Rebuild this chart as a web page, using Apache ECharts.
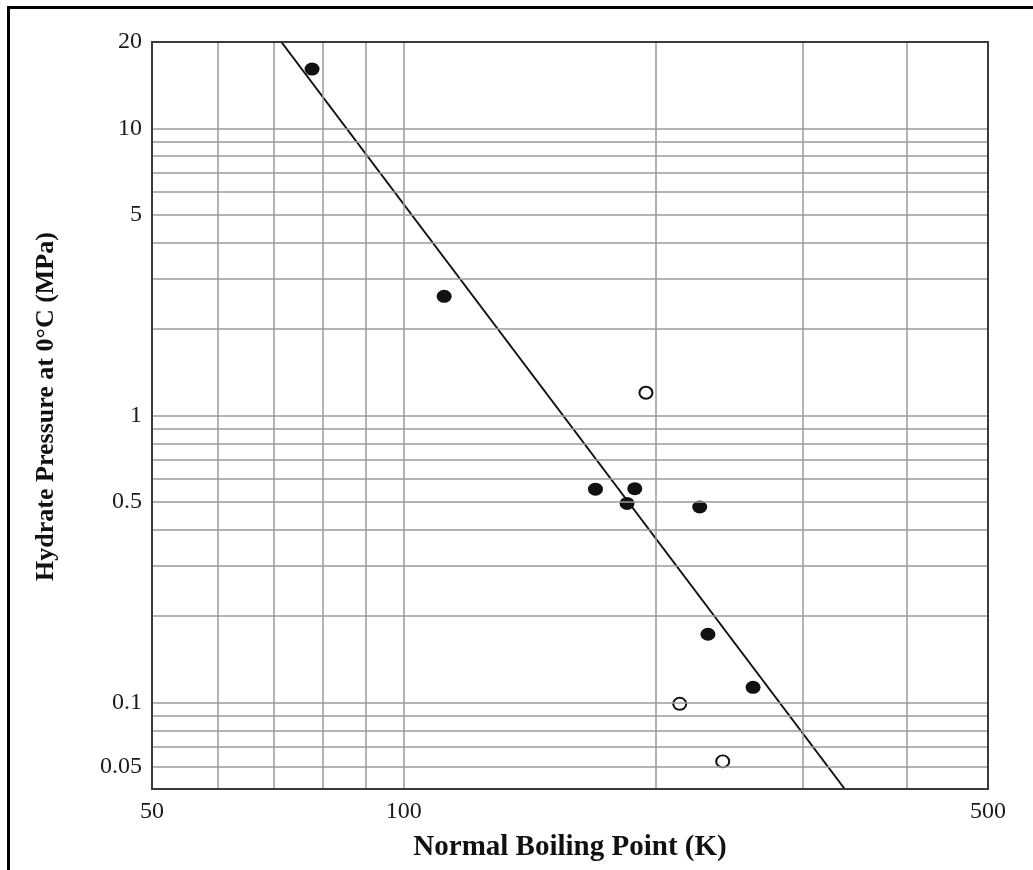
<!DOCTYPE html>
<html>
<head>
<meta charset="utf-8">
<script src="https://cdn.jsdelivr.net/npm/echarts@6/dist/echarts.min.js"></script>
<style>
  html, body { margin: 0; padding: 0; background: #fff; overflow: hidden; }
  #chart { position: absolute; left: 0; top: 0; width: 1033px; height: 870px; }
  #frame { position: absolute; left: 7px; top: 6px; width: 2000px; height: 2000px;
           border-left: 3px solid #000; border-top: 3px solid #000; pointer-events: none; }
</style>
</head>
<body>
<div id="chart"></div>
<div id="frame"></div>
<script>
// ---- data ----
const filledX = [77.7, 111.8, 169.6, 189.0, 185.0, 226.0, 231.2, 261.8];
const filledY = [16.1, 2.60, 0.554, 0.556, 0.494, 0.480, 0.173, 0.113];
const openX = [194.9, 213.9, 240.8];
const openY = [1.20, 0.099, 0.0624];
const fitX = [71.4, 337];
const fitY = [20, 0.05];

// axis ranges, grid lines and tick labels
const xRange = [50, 500];
const yRange = [0.05, 20];
const xGridValues = [60, 70, 80, 90, 100, 200, 300, 400];
const yGridValues = [0.06, 0.07, 0.08, 0.09, 0.1, 0.2, 0.3, 0.4, 0.5, 0.6, 0.7, 0.8, 0.9,
                     1, 2, 3, 4, 5, 6, 7, 8, 9, 10];
const xTickValues = [50, 100, 500];
const xTickLabels = ['50', '100', '500'];
const yTickValues = [20, 10, 5, 1, 0.5, 0.1, 0.06];
const yTickLabels = ['20', '10', '5', '1', '0.5', '0.1', '0.05'];

const SERIF = '"Liberation Serif", "DejaVu Serif", serif';

const chart = echarts.init(document.getElementById('chart'), null, { renderer: 'canvas' });

const gridLineStyle = { color: '#9a9a9a', width: 1.5, type: 'solid' };
const hidden = { color: 'rgba(0,0,0,0)', width: 1 };

chart.setOption({
  animation: false,
  backgroundColor: '#fff',
  grid: {
    left: 152, right: 45, top: 42, bottom: 81,
    outerBoundsMode: 'none', containLabel: false,
    show: true, borderColor: '#3a3a3a', borderWidth: 2, backgroundColor: 'transparent', z: 10
  },
  xAxis: {
    type: 'log', logBase: 10, min: xRange[0], max: xRange[1],
    name: 'Normal Boiling Point (K)', nameLocation: 'middle', nameGap: 44,
    nameTextStyle: { fontFamily: SERIF, fontWeight: 'bold', fontSize: 29, color: '#111' },
    axisLine: { show: false }, axisTick: { show: false }, axisLabel: { show: false },
    splitLine: { show: false }, minorSplitLine: { show: false }
  },
  yAxis: {
    type: 'log', logBase: 10, min: yRange[0], max: yRange[1],
    name: 'Hydrate Pressure at 0\u00B0C (MPa)', nameLocation: 'middle', nameGap: 93, nameRotate: 90,
    nameTextStyle: { fontFamily: SERIF, fontWeight: 'bold', fontSize: 26, color: '#111',
                     padding: [0, 0, 0, 18] },
    axisLine: { show: false }, axisTick: { show: false }, axisLabel: { show: false },
    splitLine: { show: false }, minorSplitLine: { show: false }
  },
  series: [
    {
      name: 'grid', type: 'scatter', data: [], z: 1, silent: true,
      markLine: {
        silent: true, symbol: ['none', 'none'], animation: false,
        lineStyle: gridLineStyle,
        label: { show: false },
        data: xGridValues.map(v => ({ xAxis: v })).concat(yGridValues.map(v => ({ yAxis: v })))
      }
    },
    {
      name: 'xlabels', type: 'scatter', data: [], z: 2, silent: true,
      markLine: {
        silent: true, symbol: ['none', 'none'], animation: false,
        lineStyle: hidden,
        label: {
          show: true, position: 'start', distance: 23, align: 'center', verticalAlign: 'middle',
          fontFamily: SERIF, fontSize: 24, color: '#1a1a1a'
        },
        data: xTickValues.map((v, i) => ({ xAxis: v, label: { formatter: xTickLabels[i] } }))
      }
    },
    {
      name: 'ylabels', type: 'scatter', data: [], z: 2, silent: true,
      markLine: {
        silent: true, symbol: ['none', 'none'], animation: false,
        lineStyle: hidden,
        label: {
          show: true, position: 'start', distance: 10, align: 'right', verticalAlign: 'middle',
          fontFamily: SERIF, fontSize: 24, color: '#1a1a1a'
        },
        data: yTickValues.map((v, i) => ({ yAxis: v, label: { formatter: yTickLabels[i] } }))
      }
    },
    {
      name: 'fit', type: 'line', z: 3, silent: true,
      data: fitX.map((x, i) => [x, fitY[i]]),
      symbol: 'none', lineStyle: { color: '#111', width: 2 }
    },
    {
      name: 'filled', type: 'scatter', z: 4, silent: true,
      data: filledX.map((x, i) => [x, filledY[i]]),
      symbol: 'circle', symbolSize: [15, 13],
      itemStyle: { color: '#111', opacity: 1 }
    },
    {
      name: 'open', type: 'scatter', z: 4, silent: true,
      data: openX.map((x, i) => [x, openY[i]]),
      symbol: 'circle', symbolSize: [13, 12],
      itemStyle: { color: '#fff', borderColor: '#111', borderWidth: 2, opacity: 1 }
    }
  ]
});
</script>
</body>
</html>
